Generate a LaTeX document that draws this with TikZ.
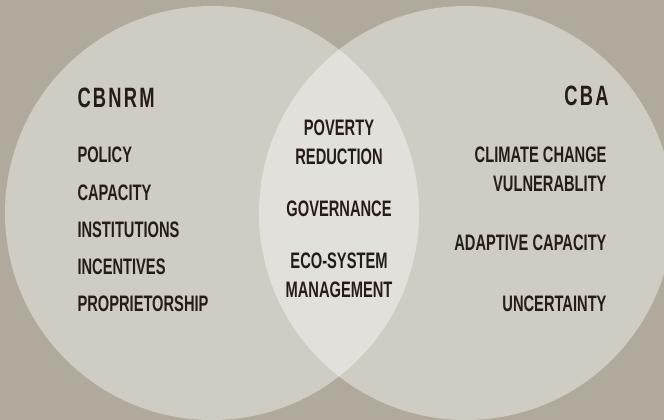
\documentclass[tikz,border=0pt]{standalone}
\usepackage{fontspec}
\newfontfamily\vennfont{Liberation Sans}[FakeStretch=0.655]
\definecolor{bgtaupe}{RGB}{176,170,156}
\definecolor{inkbrown}{RGB}{38,28,22}

\tikzset{every picture/.style={line width=0.75pt}}
\tikzset{
  vennitem/.style={font=\vennfont\bfseries\fontsize{16.8}{21.75}\selectfont, text=inkbrown, inner sep=0pt},
  venntitle/.style={vennitem, font=\vennfont\bfseries\fontsize{21}{24}\selectfont\addfontfeatures{LetterSpace=8}},
  vennset/.style={fill=white, fill opacity=0.4}
}

\begin{document}
\begin{tikzpicture}[x=0.75pt,y=0.75pt,yscale=-1,xscale=1]
	\clip (0,0) rectangle (664,420);
	\fill [bgtaupe] (0,0) rectangle (664,420);

	%Shape: Circle [id:left set] 
	\fill [vennset] (212,213) circle (207);
	%Shape: Circle [id:right set] 
	\fill [vennset] (466,213) circle (207);

	% Text Node
	\node [venntitle, anchor=west] (cbnrm) at (77,98) {CBNRM};
	% Text Node
	\node [vennitem, anchor=west] (policy) at (77,155) {POLICY};
	% Text Node
	\node [vennitem, anchor=west] (capacity) at (77,193) {CAPACITY};
	% Text Node
	\node [vennitem, anchor=west] (institutions) at (77,230) {INSTITUTIONS};
	% Text Node
	\node [vennitem, anchor=west] (incentives) at (77,267) {INCENTIVES};
	% Text Node
	\node [vennitem, anchor=west] (proprietorship) at (77,304) {PROPRIETORSHIP};

	% Text Node
	\node [vennitem, align=center] (poverty) at (339,142.5) {POVERTY\\REDUCTION};
	% Text Node
	\node [vennitem] (governance) at (339,209) {GOVERNANCE};
	% Text Node
	\node [vennitem, align=center] (ecosystem) at (339,275.5) {ECO-SYSTEM\\MANAGEMENT};

	% Text Node
	\node [venntitle, anchor=east] (cba) at (609,96) {CBA};
	% Text Node
	\node [vennitem, align=right, anchor=east] (climate) at (607,169) {CLIMATE CHANGE\\VULNERABLITY};
	% Text Node
	\node [vennitem, anchor=east] (adaptive) at (607,243) {ADAPTIVE CAPACITY};
	% Text Node
	\node [vennitem, anchor=east] (uncertainty) at (607,304) {UNCERTAINTY};

\end{tikzpicture}
\end{document}
